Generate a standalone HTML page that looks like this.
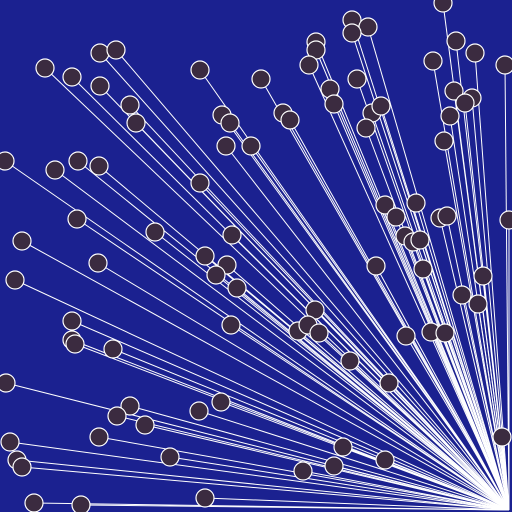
<!DOCTYPE html>
<html><head><meta charset="utf-8"><style>html,body{margin:0;padding:0;background:#1b2190}svg{display:block}</style></head>
<body>
<svg id="chart" width="512" height="512" xmlns="http://www.w3.org/2000/svg">
<rect width="512" height="512" fill="#1b2190"/>
<g id="lines"></g>
<g id="points"></g>
</svg>
<script>
const xs=[443,352,368,352,316,316,456,475,100,116,45,72,100,200,261,309,357,433,505,330,334,454,472,465,130,136,222,230,283,290,372,381,366,450,444,226,251,5,78,99,55,200,385,416,396,440,447,509,77,155,232,405,413,420,22,98,205,227,216,237,376,423,483,15,462,478,315,72,72,75,113,231,298,308,319,406,431,445,350,6,389,130,117,145,221,199,99,10,17,22,170,343,385,334,303,502,34,81,205];
const ys=[3,20,27,33,42,50,41,53,53,50,68,77,86,70,79,65,79,61,65,89,104,91,98,103,105,123,115,123,113,120,113,106,128,116,141,146,146,161,161,166,170,183,205,203,217,218,216,220,219,232,235,236,242,240,241,263,256,265,275,288,266,269,276,280,295,304,310,321,340,344,349,325,331,325,333,336,332,333,361,383,383,406,416,425,402,411,437,442,460,467,457,447,460,466,471,437,503,505,498];
const hubX=509, hubY=510;
const NS='http://www.w3.org/2000/svg';
const lg=document.getElementById('lines'), pg=document.getElementById('points');
for(let i=0;i<xs.length;i++){
  const l=document.createElementNS(NS,'line');
  l.setAttribute('x1',xs[i]);l.setAttribute('y1',ys[i]);l.setAttribute('x2',hubX);l.setAttribute('y2',hubY);
  l.setAttribute('stroke','#ffffff');l.setAttribute('stroke-width','1');
  
  
  lg.appendChild(l);
}
for(let i=0;i<xs.length;i++){
  const c=document.createElementNS(NS,'circle');
  c.setAttribute('cx',xs[i]);c.setAttribute('cy',ys[i]);c.setAttribute('r','9');
  c.setAttribute('fill','#3b2b40');c.setAttribute('stroke','#ffffff');c.setAttribute('stroke-width','1.2');
  
  
  pg.appendChild(c);
}
</script>
</body></html>
